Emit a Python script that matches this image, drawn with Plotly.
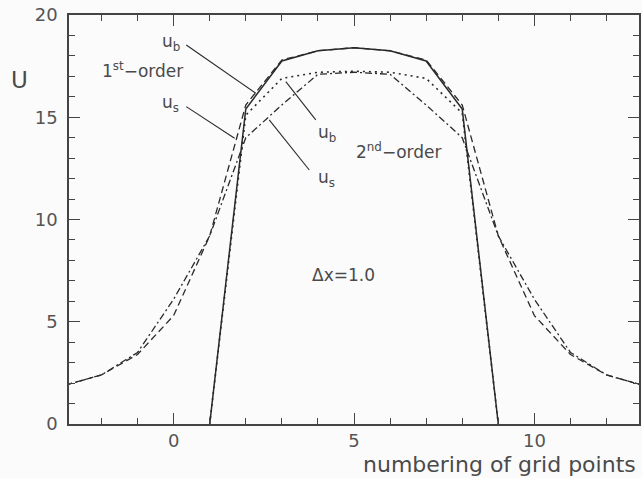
import plotly.graph_objects as go

# grid-point numbering
x_wide = [-3, -2, -1, 0, 1, 2, 3, 4, 5, 6, 7, 8, 9, 10, 11, 12, 13]
x_core = [1, 2, 3, 4, 5, 6, 7, 8, 9]

# velocity profiles
ub_first = [0.0, 15.4, 17.75, 18.25, 18.4, 18.25, 17.75, 15.4, 0.0]
ub_second = [0.0, 15.1, 16.9, 17.2, 17.25, 17.2, 16.9, 15.2, 0.0]
us_first = [1.9, 2.4, 3.4, 5.3, 9.2, 15.6, 17.8, 18.25, 18.4, 18.25, 17.8, 15.6, 9.2, 5.3, 3.4, 2.4, 1.9]
us_second = [1.9, 2.4, 3.5, 6.1, 9.2, 14.0, 15.6, 17.1, 17.2, 17.1, 15.6, 14.0, 9.2, 6.1, 3.5, 2.4, 1.9]

x_ticks = [0, 5, 10]
y_ticks = [0, 5, 10, 15, 20]

# label text, anchor positions (data units)
labels = [
    ("u<sub>b</sub>", -0.08, 18.65, "center"),
    ("u<sub>s</sub>", -0.08, 15.65, "center"),
    ("1<sup>st</sup>\u2212order", -2.05, 17.3, "left"),
    ("u<sub>b</sub>", 4.25, 14.2, "center"),
    ("u<sub>s</sub>", 4.25, 12.0, "center"),
    ("2<sup>nd</sup>\u2212order", 5.0, 13.35, "left"),
    ("\u0394x=1.0", 4.72, 7.3, "center"),
]

# leader lines from labels to curves: (x0, y0, x1, y1)
leaders = [
    (0.35, 18.53, 2.28, 16.17),
    (0.35, 15.52, 1.69, 13.97),
    (3.11, 16.74, 3.94, 14.87),
    (2.65, 14.87, 3.76, 12.42),
]

ink = "#2a2a2a"
grey = "#4a4a4a"
font_family = "DejaVu Sans"

fig = go.Figure()
fig.add_trace(go.Scatter(x=x_core, y=ub_first, mode="lines",
                         line=dict(color=ink, width=1.5, dash="solid")))
fig.add_trace(go.Scatter(x=x_core, y=ub_second, mode="lines",
                         line=dict(color=ink, width=1.6, dash="2px,4px")))
fig.add_trace(go.Scatter(x=x_wide, y=us_first, mode="lines",
                         line=dict(color=ink, width=1.3, dash="7px,4px")))
fig.add_trace(go.Scatter(x=x_wide, y=us_second, mode="lines",
                         line=dict(color=ink, width=1.3, dash="7px,3px,2px,3px")))

for x0, y0, x1, y1 in leaders:
    fig.add_shape(type="line", xref="x", yref="y", x0=x0, y0=y0, x1=x1, y1=y1,
                  line=dict(color=ink, width=1.1))

for text, lx, ly, anchor in labels:
    fig.add_annotation(x=lx, y=ly, xref="x", yref="y", text=text, showarrow=False,
                       xanchor=anchor, yanchor="middle",
                       font=dict(family=font_family, size=17, color=grey))

fig.add_annotation(x=0.998, y=-0.1345, xref="paper", yref="paper",
                   text="numbering of grid points", showarrow=False,
                   xanchor="right", yanchor="bottom",
                   font=dict(family=font_family, size=22, color=grey))
fig.add_annotation(x=-0.086, y=0.84, xref="paper", yref="paper",
                   text="U", showarrow=False, xanchor="center", yanchor="middle",
                   font=dict(family=font_family, size=23, color=grey))

axis_common = dict(
    showgrid=False, zeroline=False, showline=True, linecolor="#444", linewidth=1.5,
    ticks="inside", ticklen=11, tickwidth=1.3, tickcolor="#444", mirror="ticks",
    tickfont=dict(family=font_family, size=18, color="#555"),
)

fig.update_xaxes(range=[-2.9, 12.9], tickvals=x_ticks, ticklabelstandoff=0,
                 minor=dict(ticks="inside", ticklen=6, dtick=1, tick0=0,
                            tickcolor="#444", tickwidth=1.2),
                 **axis_common)
fig.update_yaxes(range=[0, 20], tickvals=y_ticks, ticklabelstandoff=6,
                 minor=dict(ticks="inside", ticklen=6, dtick=1, tick0=0,
                            tickcolor="#444", tickwidth=1.2),
                 **axis_common)

fig.update_layout(
    width=642, height=478,
    margin=dict(l=69, r=1, t=15, b=54),
    showlegend=False,
    paper_bgcolor="#fbfbfb", plot_bgcolor="#fbfbfb",
)

fig.write_html("out.html")
